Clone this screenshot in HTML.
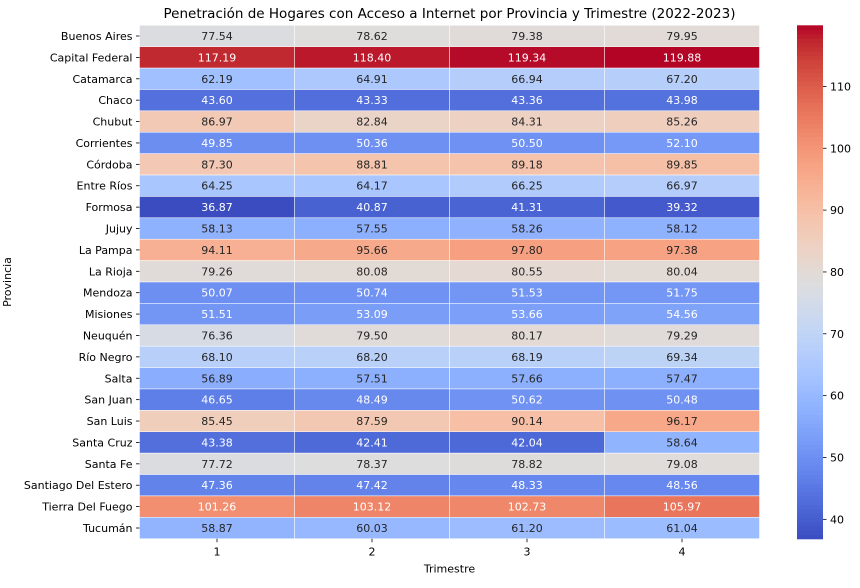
<!DOCTYPE html>
<html><head><meta charset="utf-8">
<style>
body{margin:0;background:#fff;font-family:"Liberation Sans","DejaVu Sans",sans-serif;}
svg text{font-family:"DejaVu Sans","Liberation Sans",sans-serif;}
</style></head>
<body>
<svg id="chart" width="860" height="583" xmlns="http://www.w3.org/2000/svg"></svg>
<script>
const provinces=["Buenos Aires","Capital Federal","Catamarca","Chaco","Chubut","Corrientes","Córdoba","Entre Ríos","Formosa","Jujuy","La Pampa","La Rioja","Mendoza","Misiones","Neuquén","Río Negro","Salta","San Juan","San Luis","Santa Cruz","Santa Fe","Santiago Del Estero","Tierra Del Fuego","Tucumán"];
const quarters=["1","2","3","4"];
const q1=[77.54,117.19,62.19,43.60,86.97,49.85,87.30,64.25,36.87,58.13,94.11,79.26,50.07,51.51,76.36,68.10,56.89,46.65,85.45,43.38,77.72,47.36,101.26,58.87];
const q2=[78.62,118.40,64.91,43.33,82.84,50.36,88.81,64.17,40.87,57.55,95.66,80.08,50.74,53.09,79.50,68.20,57.51,48.49,87.59,42.41,78.37,47.42,103.12,60.03];
const q3=[79.38,119.34,66.94,43.36,84.31,50.50,89.18,66.25,41.31,58.26,97.80,80.55,51.53,53.66,80.17,68.19,57.66,50.62,90.14,42.04,78.82,48.33,102.73,61.20];
const q4=[79.95,119.88,67.20,43.98,85.26,52.10,89.85,66.97,39.32,58.12,97.38,80.04,51.75,54.56,79.29,69.34,57.47,50.48,96.17,58.64,79.08,48.56,105.97,61.04];
const cbTicks=[40,50,60,70,80,90,100,110];

const series=[q1,q2,q3,q4];
const all=series.flat();
const vmin=Math.min(...all), vmax=Math.max(...all);
const L=139.5,R=759.5,T=25.3,B=538.7;
const cw=(R-L)/quarters.length, rh=(B-T)/provinces.length;
const xPos=i=>L+i*cw, yPos=j=>T+j*rh;
const cm=[[59,76,192],[68,90,204],[77,104,215],[87,117,225],[98,130,234],[108,142,241],[119,154,247],[130,165,251],[141,176,254],[152,185,255],[163,194,255],[174,201,253],[184,208,249],[194,213,244],[204,217,238],[213,219,230],[221,221,221],[229,216,209],[236,211,197],[241,204,185],[245,196,173],[247,187,160],[247,177,148],[247,166,135],[244,154,123],[241,141,111],[236,127,99],[229,112,88],[222,96,77],[213,80,66],[203,62,56],[192,40,47],[180,4,38]];
function col(v){let t=(v-vmin)/(vmax-vmin);t=Math.max(0,Math.min(1,t));const f=t*32,i=Math.min(31,Math.floor(f)),r=f-i;
 return cm[i].map((c,k)=>Math.round(c+(cm[i+1][k]-c)*r));}
function lum(c){const l=c.map(x=>{x/=255;return x<=0.03928?x/12.92:Math.pow((x+0.055)/1.055,2.4)});return 0.2126*l[0]+0.7152*l[1]+0.0722*l[2];}
const svg=document.getElementById('chart');const NS="http://www.w3.org/2000/svg";
function mk(tag,a,parent){const e=document.createElementNS(NS,tag);for(const k in a)e.setAttribute(k,a[k]);(parent||svg).appendChild(e);return e;}
const g=mk('g',{});


series.forEach((s,i)=>s.forEach((v,j)=>{
 const c=col(v);
 const r=mk('rect',{x:xPos(i),y:yPos(j),width:cw,height:rh,fill:`rgb(${c})`,stroke:'#fff','stroke-width':0.5},g);
 
 
 const t=mk('text',{x:xPos(i)+cw/2,y:yPos(j)+rh/2+4,'text-anchor':'middle','font-size':11,fill:lum(c)>0.408?'#262626':'#fff'},g);
 t.textContent=v.toFixed(2);
 
 
}));
provinces.forEach((p,j)=>{
 const y=yPos(j)+rh/2;
 mk('line',{x1:L-3.5,x2:L,y1:y,y2:y,stroke:'#000','stroke-width':0.8});
 const t=mk('text',{x:L-7,y:y+4,'text-anchor':'end','font-size':11,fill:'#000'});
 t.textContent=p;
 
 
});
quarters.forEach((q,i)=>{
 const x=xPos(i)+cw/2;
 mk('line',{x1:x,x2:x,y1:B,y2:B+3.5,stroke:'#000','stroke-width':0.8});
 const t=mk('text',{x:x,y:B+17,'text-anchor':'middle','font-size':11,fill:'#000'});
 t.textContent=q;
 
 
});
let t=mk('text',{x:(L+R)/2,y:B+34,'text-anchor':'middle','font-size':11});t.textContent='Trimestre';


t=mk('text',{x:0,y:0,'text-anchor':'middle','font-size':11,transform:`translate(11,${(T+B)/2}) rotate(-90)`});t.textContent='Provincia';


t=mk('text',{x:(L+R)/2,y:18,'text-anchor':'middle','font-size':13.5});t.textContent='Penetración de Hogares con Acceso a Internet por Provincia y Trimestre (2022-2023)';


// colorbar
const cbx=797,cbw=26;
const cb=mk('g',{});


const N=120;
for(let k=0;k<N;k++){const v=vmin+(vmax-vmin)*(k+0.5)/N;const c=col(v);const y0=B-(k+1)*(B-T)/N;
 mk('rect',{x:cbx,y:y0,width:cbw,height:(B-T)/N+0.6,fill:`rgb(${c})`},cb);}
const cy=v=>B-(v-vmin)/(vmax-vmin)*(B-T);
cbTicks.forEach(v=>{const y=cy(v);
 mk('line',{x1:cbx+cbw,x2:cbx+cbw+3.5,y1:y,y2:y,stroke:'#000','stroke-width':0.8},cb);
 const tt=mk('text',{x:cbx+cbw+7,y:y+4,'font-size':11},cb);tt.textContent=v;
 
 
});
</script>
</body></html>
